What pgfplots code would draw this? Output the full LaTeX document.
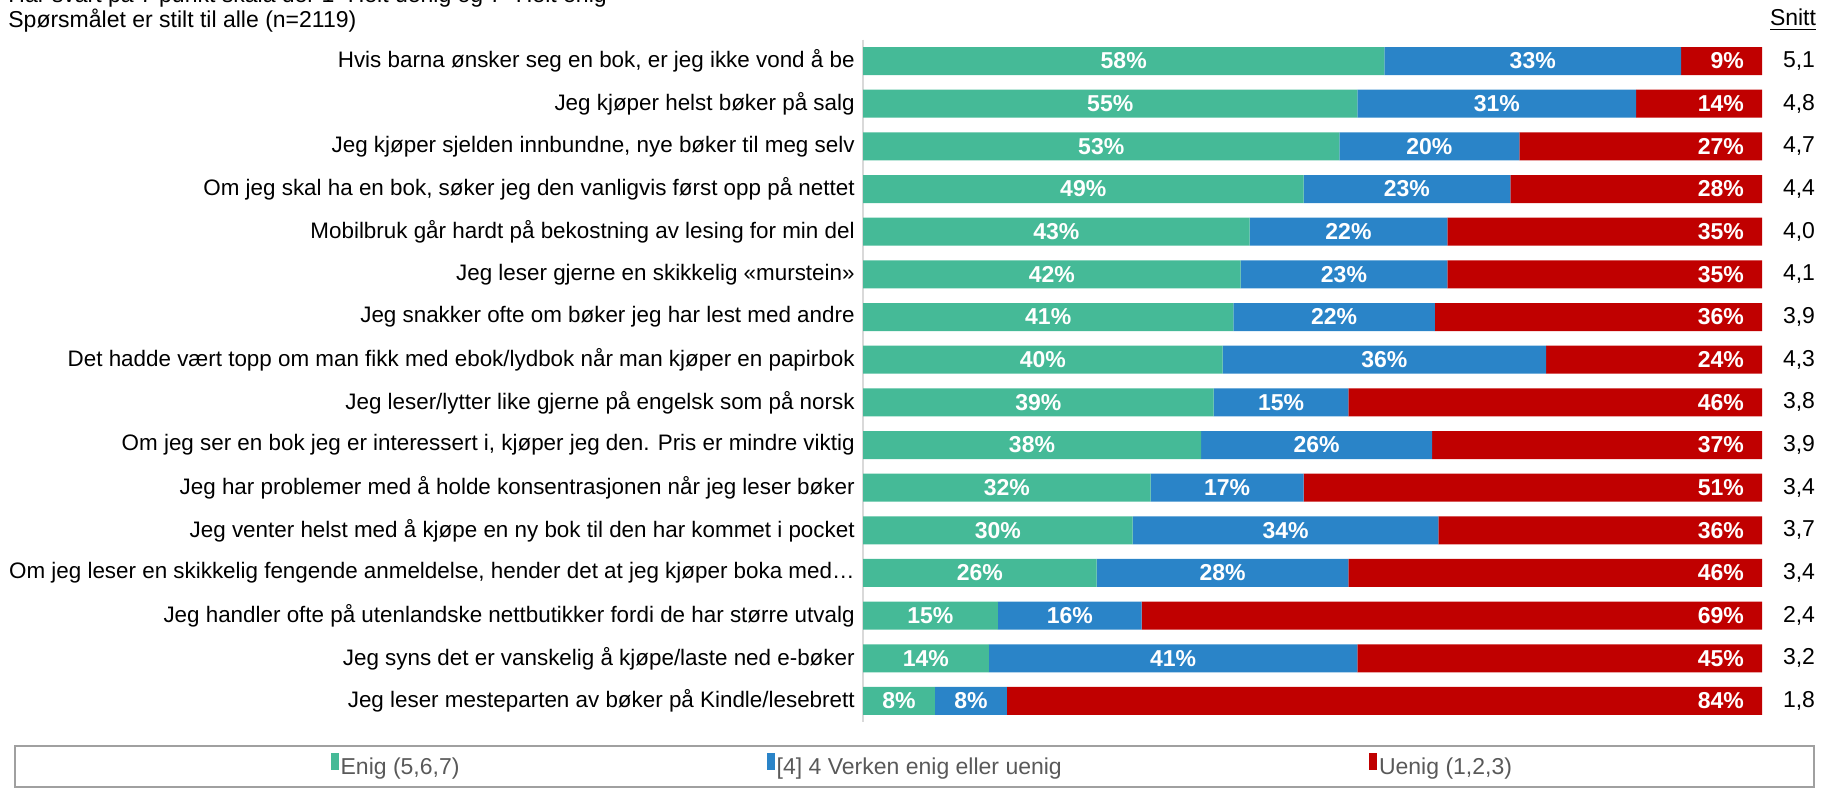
\documentclass[border=0pt]{standalone}
\usepackage{fontspec}
\setmainfont{Liberation Sans}
\usepackage{pgfplots}
\usepackage{pgfplotstable}
\pgfplotsset{compat=1.18}
\definecolor{enig}{RGB}{69,186,151}
\definecolor{noy}{RGB}{42,132,200}
\definecolor{uenig}{RGB}{192,0,0}
\definecolor{axgray}{RGB}{217,217,217}
\definecolor{legtext}{RGB}{89,89,89}
\definecolor{legframe}{RGB}{160,160,160}

\pgfplotstableread[col sep=semicolon]{
label;enig;noy;uenig;snitt
Hvis barna ønsker seg en bok, er jeg ikke vond å be;58;33;9;5,1
Jeg kjøper helst bøker på salg;55;31;14;4,8
Jeg kjøper sjelden innbundne, nye bøker til meg selv;53;20;27;4,7
Om jeg skal ha en bok, søker jeg den vanligvis først opp på nettet;49;23;28;4,4
Mobilbruk går hardt på bekostning av lesing for min del;43;22;35;4,0
Jeg leser gjerne en skikkelig «murstein»;42;23;35;4,1
Jeg snakker ofte om bøker jeg har lest med andre;41.2;22.4;36.4;3,9
Det hadde vært topp om man fikk med ebok/lydbok når man kjøper en papirbok;40;36;24;4,3
Jeg leser/lytter like gjerne på engelsk som på norsk;39;15;46;3,8
Om jeg ser en bok jeg er interessert i, kjøper jeg den. Pris er mindre viktig;37.6;25.7;36.7;3,9
Jeg har problemer med å holde konsentrasjonen når jeg leser bøker;32;17;51;3,4
Jeg venter helst med å kjøpe en ny bok til den har kommet i pocket;30;34;36;3,7
Om jeg leser en skikkelig fengende anmeldelse, hender det at jeg kjøper boka med…;26;28;46;3,4
Jeg handler ofte på utenlandske nettbutikker fordi de har større utvalg;15;16;69;2,4
Jeg syns det er vanskelig å kjøpe/laste ned e-bøker;14;41;45;3,2
Jeg leser mesteparten av bøker på Kindle/lesebrett;8;8;84;1,8
}\data

\pgfplotsset{
  legbox/.style={legend image code/.code={\fill[##1] (0pt,-1pt) rectangle (4pt,7.5pt);}},
  pct/.style={
    nodes near coords={\pgfmathprintnumber[fixed,precision=0,assume math mode=true]{\pgfplotspointmeta}\%},
    point meta=rawx,
  },
}

\begin{document}
\fontsize{11.5}{13.8}\selectfont
\begin{tikzpicture}
\path[use as bounding box] (0,0) rectangle (920.5pt,-395.5pt);

\node[anchor=base west, inner sep=0pt] at (4pt,-1.5pt) {Har svart på 7 punkt skala der 1=Helt uenig og 7=Helt enig};
\node[anchor=base west, inner sep=0pt] at (4pt,-14pt) {Spørsmålet er stilt til alle (n=2119)};
\node[anchor=base, inner sep=0pt] at (896.5pt,-13pt) {\underline{Snitt}};

\draw[legframe, line width=1pt] (7.5pt,-373pt) rectangle (907pt,-393.5pt);

\begin{axis}[
  at={(431.5pt,-361.15pt)}, anchor=south west,
  scale only axis, width=449.5pt, height=341.3pt,
  xbar stacked, bar width=14pt,
  xmin=0, xmax=100, ymin=-0.5, ymax=15.5,
  enlargelimits=false,
  y dir=reverse,
  axis x line=none,
  axis y line*=left,
  y axis line style={draw=axgray, line width=0.75pt},
  major tick length=0pt,
  ytick={0,...,15},
  yticklabels from table={\data}{label},
  yticklabel style={inner sep=0pt, xshift=-4pt, font=\fontsize{11.2}{13}\selectfont},
  legend columns=3,
  legend style={at={(0.066,-0.0647)}, anchor=center, draw=none, fill=none,
    text=legtext, nodes={inner sep=0.8pt}, cells={anchor=west},
    /tikz/every even column/.append style={column sep=153pt}},
]
\addplot[fill=enig, draw=none, legbox, pct,
  nodes near coords style={anchor=center, text=white, font=\bfseries}]
  table[x=enig, y expr=\coordindex] {\data};
\addplot[fill=noy, draw=none, legbox, pct,
  nodes near coords style={anchor=center, text=white, font=\bfseries}]
  table[x=noy, y expr=\coordindex] {\data};
\addplot[fill=uenig, draw=none, legbox, pct,
  visualization depends on=rawx \as \rawx,
  nodes near coords style={anchor=east, xshift={\rawx*2.2475pt-5pt}, text=white, font=\bfseries}]
  table[x=uenig, y expr=\coordindex] {\data};
\legend{{Enig (5,6,7)},{\mbox{[4]} 4 Verken enig eller uenig},{Uenig (1,2,3)}}
\end{axis}

\begin{axis}[
  at={(431.5pt,-361.15pt)}, anchor=south west,
  scale only axis, width=449.5pt, height=341.3pt,
  xmin=0, xmax=100, ymin=-0.5, ymax=15.5,
  enlargelimits=false,
  y dir=reverse,
  axis x line=none,
  axis y line*=right,
  y axis line style={draw=none},
  major tick length=0pt,
  ytick={0,...,15},
  yticklabels from table={\data}{snitt},
  yticklabel style={anchor=center, inner sep=0pt, xshift=18.5pt},
]
\addplot[draw=none] coordinates {(0,0)};
\end{axis}
\end{tikzpicture}
\end{document}
